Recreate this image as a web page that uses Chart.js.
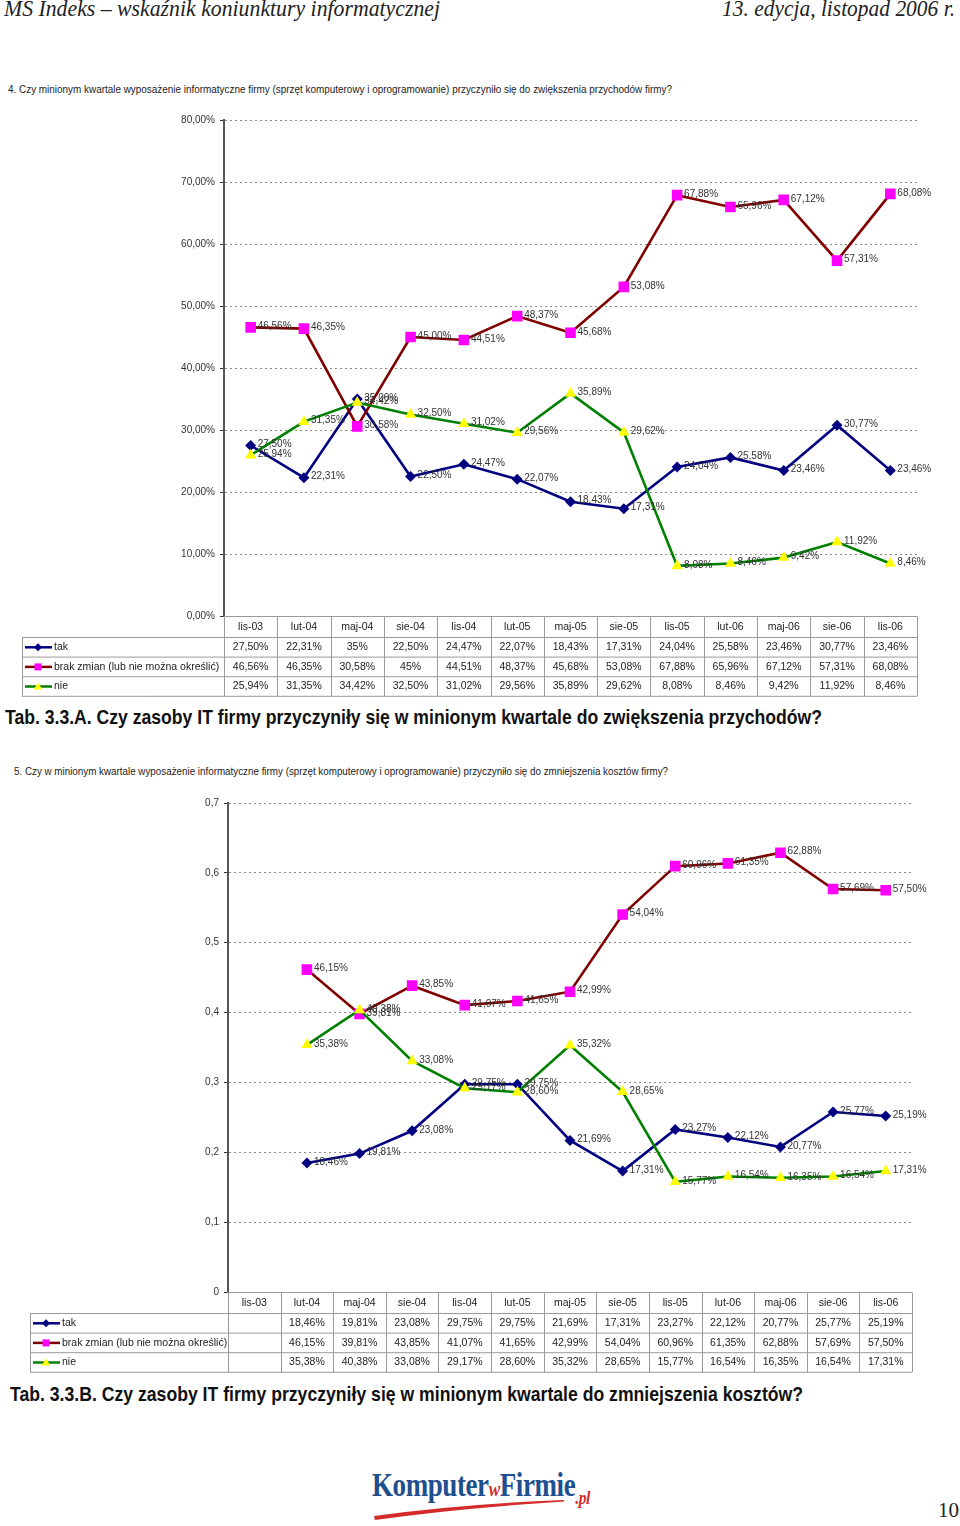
<!DOCTYPE html>
<html><head><meta charset="utf-8">
<script src="https://cdn.jsdelivr.net/npm/chart.js@4/dist/chart.umd.min.js"></script>
<style>
body{margin:0;background:#fff;}
#page{position:relative;width:960px;height:1526px;overflow:hidden;background:#fff;font-family:"Liberation Sans",Arial,sans-serif;}
.abs{position:absolute;white-space:nowrap;transform-origin:0 0;}
canvas{position:absolute;left:0;}
</style></head><body>
<div id="page">
  <div class="abs fit" data-w="436" style="left:4px;top:-3px;font:italic 23px/1 'Liberation Serif',serif;color:#222">MS Indeks – wskaźnik koniunktury informatycznej</div>
  <div class="abs fit" data-w="233" data-right="955" style="top:-3px;font:italic 23px/1 'Liberation Serif',serif;color:#222">13. edycja, listopad 2006 r.</div>

  <div class="abs fit" data-w="664" style="left:8px;top:84px;font:10px/12px 'Liberation Sans',Arial;color:#222">4. Czy minionym kwartale wyposażenie informatyczne firmy (sprzęt komputerowy i oprogramowanie) przyczyniło się do zwiększenia przychodów firmy?</div>
  <canvas id="chartA" width="960" height="600" style="top:101px"></canvas>
  <div class="abs fit" data-w="817" style="left:5px;top:706px;font:bold 21px/1 'Liberation Sans',Arial;color:#111">Tab. 3.3.A. Czy zasoby IT firmy przyczyniły się w minionym kwartale do zwiększenia przychodów?</div>

  <div class="abs fit" data-w="654" style="left:14px;top:766px;font:10px/12px 'Liberation Sans',Arial;color:#222">5. Czy w minionym kwartale wyposażenie informatyczne firmy (sprzęt komputerowy i oprogramowanie) przyczyniło się do zmniejszenia kosztów firmy?</div>
  <canvas id="chartB" width="960" height="590" style="top:786px"></canvas>
  <div class="abs fit" data-w="793" style="left:10px;top:1383px;font:bold 21px/1 'Liberation Sans',Arial;color:#111">Tab. 3.3.B. Czy zasoby IT firmy przyczyniły się w minionym kwartale do zmniejszenia kosztów?</div>

  <div class="abs fit" data-w="218" style="left:372px;top:1469px;font:bold 33px/1 'Liberation Serif',serif;color:#1f4f8f;letter-spacing:-0.5px">Komputer<span style="color:#d42a2a;font-style:italic;font-size:21px">w</span>Firmie<span style="color:#d42a2a;font-style:italic;font-size:19px;position:relative;top:8px">.pl</span></div>
  <svg class="abs" style="left:370px;top:1495px" width="220" height="35"><path d="M4 21 Q 90 9 194 5 L 194 6.6 Q 90 13 5 25 Z" fill="#d42a2a"/></svg>
  <div class="abs" style="left:938px;top:1500px;font:21px/1 'Liberation Serif',serif;color:#222">10</div>
</div>
<script>
// ---------- data ----------
const categories = ['lis-03','lut-04','maj-04','sie-04','lis-04','lut-05','maj-05','sie-05','lis-05','lut-06','maj-06','sie-06','lis-06'];
const seriesNames = ['tak','brak zmian (lub nie można określić)','nie'];

const takA  = [27.50,22.31,35.00,22.50,24.47,22.07,18.43,17.31,24.04,25.58,23.46,30.77,23.46];
const brakA = [46.56,46.35,30.58,45.00,44.51,48.37,45.68,53.08,67.88,65.96,67.12,57.31,68.08];
const nieA  = [25.94,31.35,34.42,32.50,31.02,29.56,35.89,29.62,8.08,8.46,9.42,11.92,8.46];

const takB  = [null,18.46,19.81,23.08,29.75,29.75,21.69,17.31,23.27,22.12,20.77,25.77,25.19];
const brakB = [null,46.15,39.81,43.85,41.07,41.65,42.99,54.04,60.96,61.35,62.88,57.69,57.50];
const nieB  = [null,35.38,40.38,33.08,29.17,28.60,35.32,28.65,15.77,16.54,16.35,16.54,17.31];

const yTickLabelsA = ['0,00%','10,00%','20,00%','30,00%','40,00%','50,00%','60,00%','70,00%','80,00%'];
const yTickLabelsB = ['0','0,1','0,2','0,3','0,4','0,5','0,6','0,7'];

// ---------- helpers ----------
document.querySelectorAll('.fit').forEach(el => {
  const w = el.getBoundingClientRect().width;
  const target = +el.dataset.w;
  el.style.transform = 'scaleX(' + (target / w) + ')';
  if (el.dataset.right) el.style.left = (+el.dataset.right - target) + 'px';
});

const FONT = '"Liberation Sans", Arial, sans-serif';
const fmtLabel = v => v.toFixed(2).replace('.', ',') + '%';
const fmtTable = v => (Number.isInteger(v) ? String(v) : v.toFixed(2).replace('.', ',')) + '%';

const styles = [
  {line:'#000080', fill:'#000080', marker:'rectRot'},
  {line:'#800000', fill:'#ff00ff', marker:'rect'},
  {line:'#008000', fill:'#ffff00', marker:'triangle'}
];

function drawMarker(ctx, type, x, y, r, fill) {
  ctx.fillStyle = fill;
  ctx.beginPath();
  if (type === 'rectRot') {
    ctx.moveTo(x, y - r); ctx.lineTo(x + r, y); ctx.lineTo(x, y + r); ctx.lineTo(x - r, y);
  } else if (type === 'rect') {
    ctx.rect(x - r, y - r, 2 * r, 2 * r);
  } else {
    ctx.moveTo(x, y - r); ctx.lineTo(x + r * 1.1, y + r * 0.75); ctx.lineTo(x - r * 1.1, y + r * 0.75);
  }
  ctx.closePath(); ctx.fill();
}

const labelPlugin = {
  id: 'valueLabels',
  afterDatasetsDraw(chart) {
    const ctx = chart.ctx;
    ctx.save();
    ctx.font = '10px ' + FONT;
    ctx.fillStyle = '#333';
    ctx.textBaseline = 'middle';
    ctx.textAlign = 'left';
    chart.data.datasets.forEach((ds, di) => {
      const meta = chart.getDatasetMeta(di);
      meta.data.forEach((pt, i) => {
        const v = ds.data[i];
        if (v == null) return;
        ctx.fillText(fmtLabel(v), pt.x + 7, pt.y - 1);
      });
    });
    ctx.restore();
  }
};

const tablePlugin = {
  id: 'dataTable',
  afterDraw(chart, args, opts) {
    const ctx = chart.ctx;
    const {left, right, bottom} = chart.chartArea;
    const n = chart.data.labels.length;
    const colW = (right - left) / n;
    const headH = opts.headH, rowH = opts.rowH, legLeft = opts.legLeft;
    const y0 = Math.round(bottom) + 0.5;
    const y1 = y0 + headH;
    const yEnd = y1 + rowH * 3;
    ctx.save();
    ctx.strokeStyle = '#9a9a9a';
    ctx.lineWidth = 1;
    ctx.beginPath();
    ctx.moveTo(left, y0); ctx.lineTo(right, y0);
    ctx.moveTo(legLeft, y1); ctx.lineTo(right, y1);
    for (let r = 1; r <= 3; r++) { ctx.moveTo(legLeft, y1 + rowH * r); ctx.lineTo(right, y1 + rowH * r); }
    for (let i = 0; i <= n; i++) {
      const x = Math.round(left + colW * i) + 0.5;
      ctx.moveTo(x, y0); ctx.lineTo(x, yEnd);
    }
    ctx.moveTo(legLeft + 0.5, y1); ctx.lineTo(legLeft + 0.5, yEnd);
    ctx.stroke();

    ctx.font = '10.5px ' + FONT;
    ctx.fillStyle = '#222';
    ctx.textBaseline = 'middle';
    ctx.textAlign = 'center';
    chart.data.labels.forEach((lab, i) => {
      ctx.fillText(lab, left + colW * (i + 0.5), y0 + headH / 2);
    });
    chart.data.datasets.forEach((ds, di) => {
      const cy = y1 + rowH * (di + 0.5);
      ds.data.forEach((v, i) => {
        if (v == null) return;
        ctx.fillText(fmtTable(v), left + colW * (i + 0.5), cy);
      });
      const st = styles[di];
      ctx.strokeStyle = st.line; ctx.lineWidth = 2.5;
      ctx.beginPath(); ctx.moveTo(legLeft + 3, cy); ctx.lineTo(legLeft + 30, cy); ctx.stroke();
      drawMarker(ctx, st.marker, legLeft + 16, cy, st.marker === 'rect' ? 3.5 : 4, st.fill);
      ctx.fillStyle = '#222';
      ctx.textAlign = 'left';
      ctx.fillText(ds.label, legLeft + 32, cy);
      ctx.textAlign = 'center';
    });
    ctx.restore();
  }
};

function makeChart(id, cfg) {
  const ds = [cfg.tak, cfg.brak, cfg.nie].map((data, i) => ({
    label: seriesNames[i],
    data: data,
    borderColor: styles[i].line,
    backgroundColor: styles[i].fill,
    pointBackgroundColor: styles[i].fill,
    pointBorderColor: styles[i].fill,
    pointBorderWidth: 0,
    pointStyle: styles[i].marker,
    pointRadius: [5.5, 7.5, 6.5][i],
    borderWidth: 2.6,
    tension: 0,
    order: 2 - i
  }));
  return new Chart(document.getElementById(id), {
    type: 'line',
    data: {labels: categories, datasets: ds},
    options: {
      responsive: false,
      animation: false,
      events: [],
      layout: {padding: cfg.padding},
      plugins: {
        legend: {display: false},
        tooltip: {enabled: false},
        dataTable: {legLeft: cfg.legLeft, headH: 21, rowH: 19.6}
      },
      scales: {
        x: {display: false, offset: true},
        y: {
          min: 0, max: cfg.max,
          afterFit(s) { s.width = cfg.axisW; },
          ticks: {stepSize: 10, callback: (v, i) => cfg.tickLabels[i], font: {family: FONT, size: 10}, color: '#333', padding: 5},
          grid: {color: '#8a8a8a', lineWidth: 1, tickLength: 4, tickColor: '#333', drawTicks: true},
          border: {display: true, color: '#555', width: 2, dash: [2, 3]}
        }
      }
    },
    plugins: [labelPlugin, tablePlugin]
  });
}

makeChart('chartA', {tak: takA, brak: brakA, nie: nieA, max: 80, tickLabels: yTickLabelsA,
  axisW: 224, legLeft: 22, padding: {top: 19, bottom: 85, left: 0, right: 43}});
makeChart('chartB', {tak: takB, brak: brakB, nie: nieB, max: 70, tickLabels: yTickLabelsB,
  axisW: 228, legLeft: 30, padding: {top: 17, bottom: 84, left: 0, right: 48}});
</script>
</body></html>
